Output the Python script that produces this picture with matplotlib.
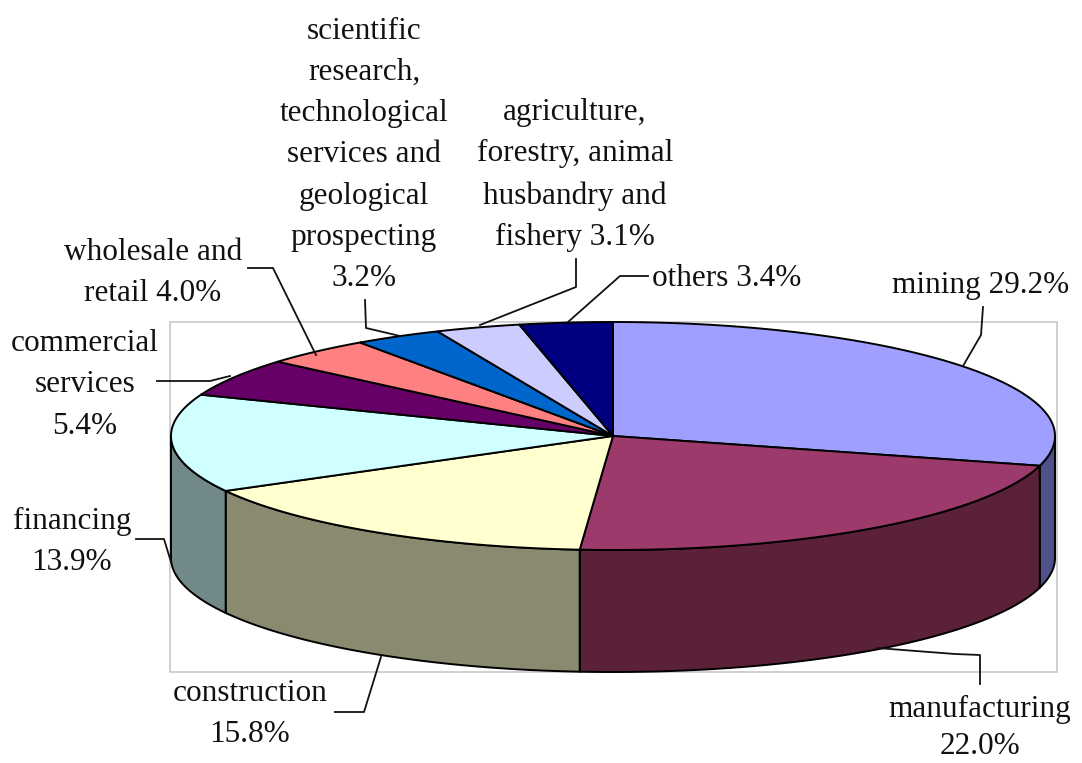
import numpy as np
import matplotlib
matplotlib.use("Agg")
import matplotlib.pyplot as plt
from matplotlib.patches import Polygon, Rectangle

categories = ["mining", "manufacturing", "construction", "financing", "commercial services",
              "wholesale and retail", "scientific research, technological services and geological prospecting",
              "agriculture, forestry, animal husbandry and fishery", "others"]
values = [29.2, 22.0, 15.8, 13.9, 5.4, 4.0, 3.2, 3.1, 3.4]
top_colors = ["#9F9FFF", "#9C3A6C", "#FFFFD0", "#CFFFFF", "#660066", "#FF8080", "#0066CC", "#CCCCFF", "#000080"]
side_colors = ["#50508A", "#5A2139", "#8A8A70", "#72898A", "#330033", "#804040", "#003366", "#666680", "#000040"]
labels = ["mining 29.2%", "manufacturing\n22.0%", "construction\n15.8%", "financing\n13.9%",
          "commercial\nservices\n5.4%", "wholesale and\nretail 4.0%",
          "scientific\nresearch,\ntechnological\nservices and\ngeological\nprospecting\n3.2%",
          "agriculture,\nforestry, animal\nhusbandry and\nfishery 3.1%", "others 3.4%"]
label_xy = [(981, 286), (980, 728), (250, 714), (72, 542), (85, 385), (153, 273), (364, 155), (575, 175), (727, 279)]
label_spacing = [1.56, 1.38, 1.56, 1.56, 1.56, 1.56, 1.56, 1.56, 1.56]
leaders = [
    [(963, 366), (981, 335), (983, 307)],
    [(877, 648), (955, 654), (980, 655), (980, 684)],
    [(381, 657), (364, 712), (335, 712)],
    [(171, 562), (164, 539), (136, 539)],
    [(230, 376), (210, 381), (157, 381)],
    [(316, 355), (273, 268), (248, 268)],
    [(400, 336), (366, 328), (365, 300)],
    [(480, 325), (576, 287), (576, 259)],
    [(568, 322), (620, 276), (648, 276)],
]

cx, cy, rx, ry, depth = 613, 436, 442, 114, 122

fig = plt.figure(figsize=(10.82, 7.63), dpi=100, facecolor="white")
ax = fig.add_axes([0, 0, 1, 1])
ax.set_xlim(0, 1082)
ax.set_ylim(763, 0)
ax.axis("off")
plt.rcParams["font.family"] = "Liberation Serif"

ax.add_patch(Rectangle((170, 322), 887, 350, fc="none", ec="#C4C4C4", lw=1.1, zorder=1))


def arc(a, b, dy=0):
    t = np.radians(np.linspace(a, b, max(int(abs(b - a) * 2), 2)))
    return np.column_stack([cx + rx * np.sin(t), cy - ry * np.cos(t) + dy])


edges = np.concatenate([[0], np.cumsum(values)]) / sum(values) * 360
for a, b, sc in zip(edges[:-1], edges[1:], side_colors):
    lo, hi = max(a, 90), min(b, 270)
    if lo < hi:
        pts = np.vstack([arc(lo, hi), arc(lo, hi, depth)[::-1]])
        ax.add_patch(Polygon(pts, closed=True, fc=sc, ec="black", lw=1.4, zorder=2))
for a, b, tc in zip(edges[:-1], edges[1:], top_colors):
    pts = np.vstack([[(cx, cy)], arc(a, b)])
    ax.add_patch(Polygon(pts, closed=True, fc=tc, ec="black", lw=1.4, zorder=3))

for pts in leaders:
    xs, ys = zip(*pts)
    ax.plot(xs, ys, color="#111111", lw=1.3, zorder=4)
for text, (x, y), sp in zip(labels, label_xy, label_spacing):
    ax.text(x, y, text, ha="center", va="center", fontsize=22.5, family="Liberation Serif",
            color="#111111", linespacing=sp, zorder=5)

fig.savefig("out.png", dpi=100)
